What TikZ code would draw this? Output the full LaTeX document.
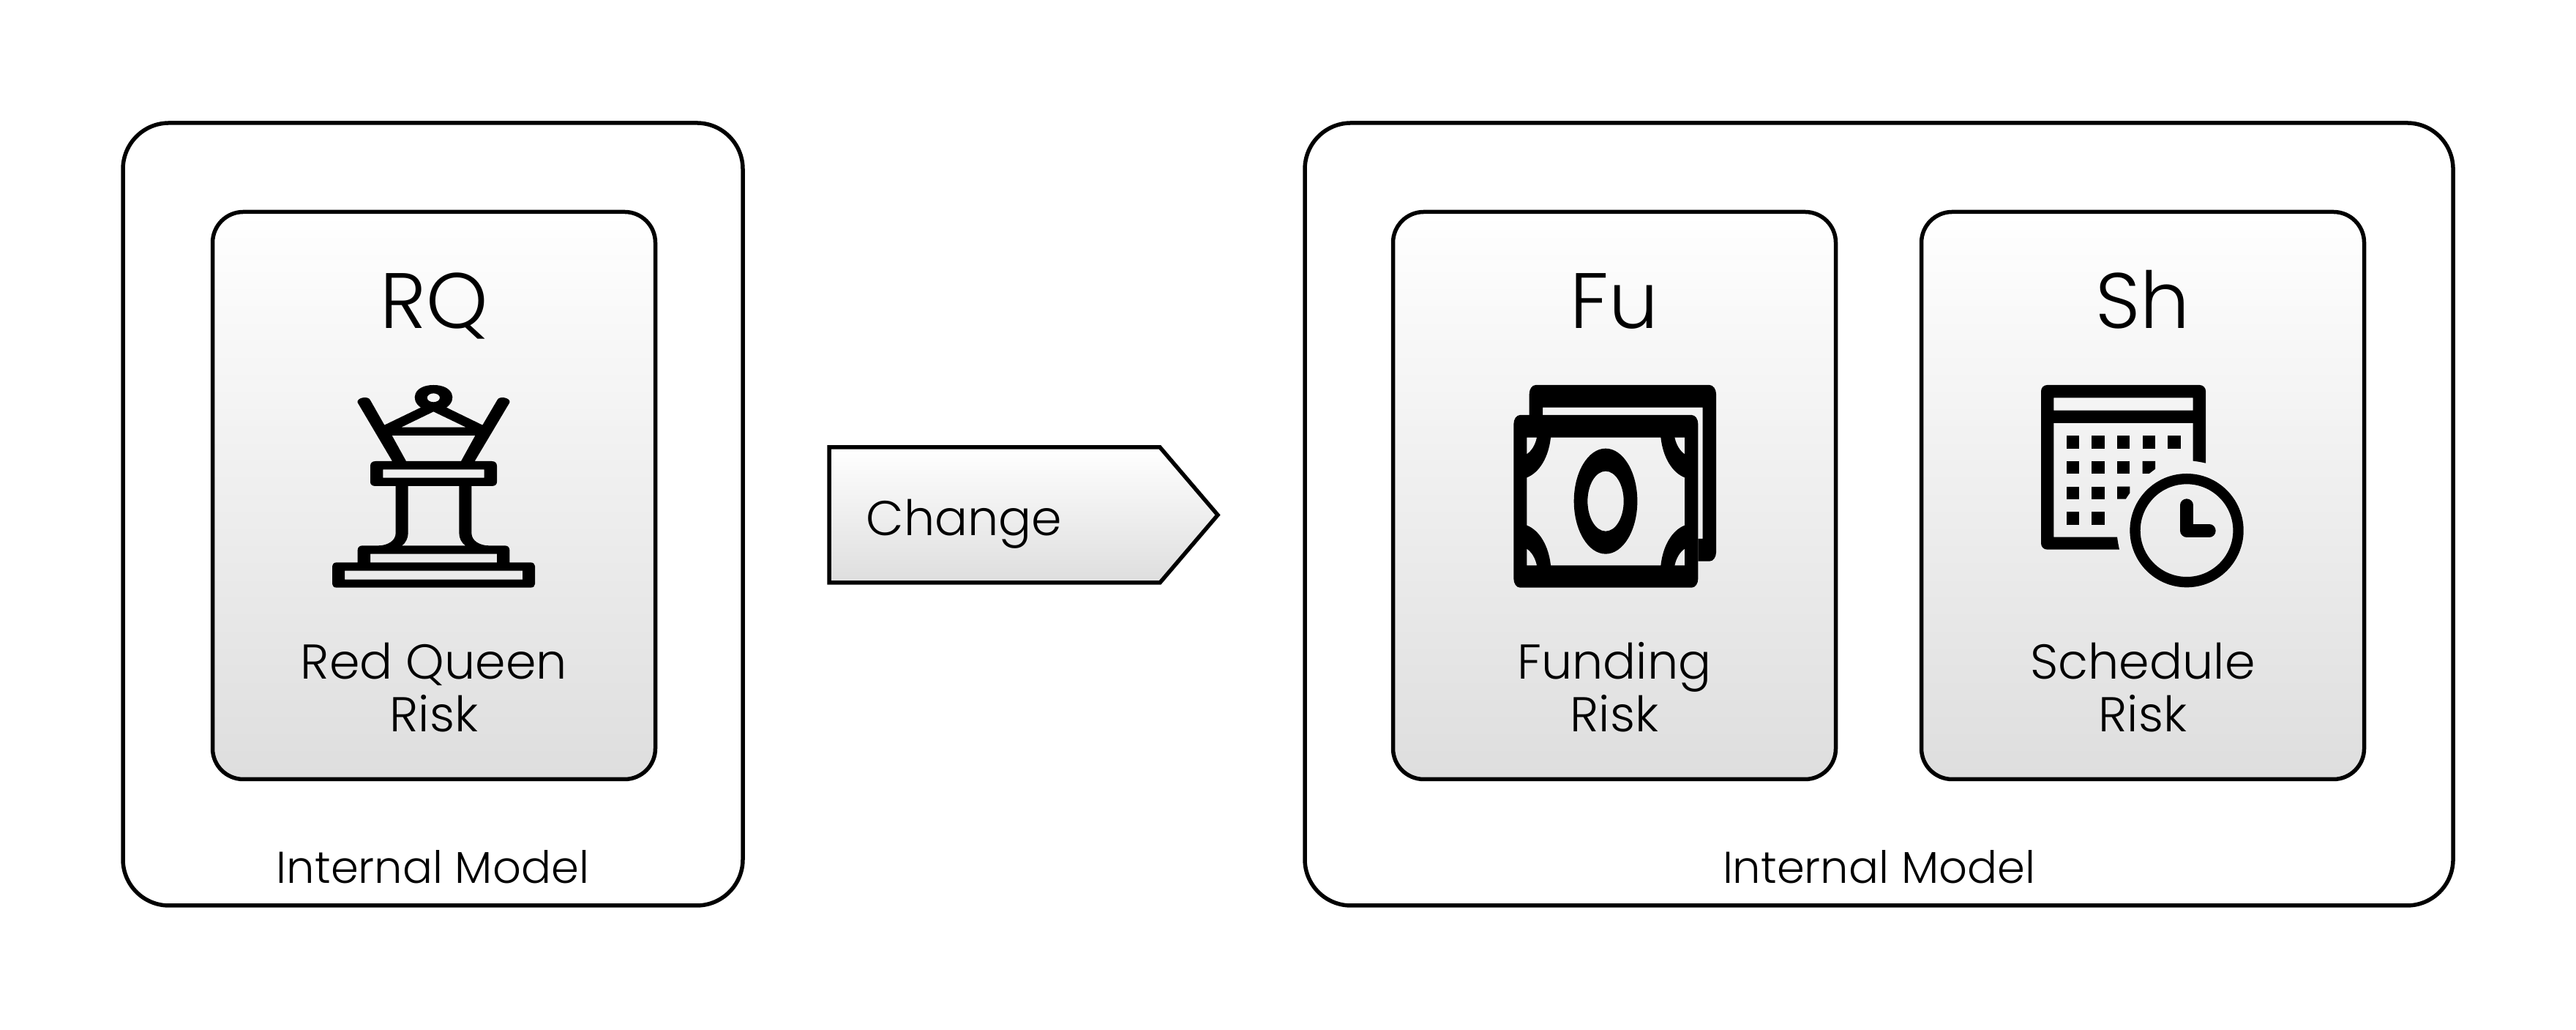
\documentclass[tikz,border=0pt]{standalone}
\usepackage{fontspec}
\setmainfont{Poppins Light}
\usetikzlibrary{positioning}
\usetikzlibrary{shapes.symbols}

\definecolor{shade bottom}{gray}{0.87}

\tikzset{
  icon/.style = {x=0.033333mm, y=-0.033333mm},
  icon fill/.style = {fill=black, even odd rule, draw=none},
  queen icon/.pic = {
    \path[icon fill]
      (206,210) .. controls (200,190) and (250,180) .. (258,200) -- (316,302) -- (465,230)
      .. controls (420,200) and (435,138) .. (517,138)
      .. controls (600,138) and (615,200) .. (570,230) -- (718,302) -- (778,200)
      .. controls (785,180) and (835,190) .. (829,210) -- (686,450) -- (755,450)
      .. controls (770,450) and (777,458) .. (777,470) -- (777,535)
      .. controls (777,545) and (770,552) .. (755,552) -- (673,552) -- (673,745)
      .. controls (673,775) and (705,796) .. (745,796) -- (810,796)
      .. controls (822,796) and (829,804) .. (829,815) -- (829,865) -- (915,865)
      .. controls (926,865) and (933,872) .. (933,880) -- (933,953)
      .. controls (933,962) and (926,968) .. (915,968) -- (120,968)
      .. controls (109,968) and (102,962) .. (102,953) -- (102,880)
      .. controls (102,872) and (109,865) .. (120,865) -- (206,865) -- (206,815)
      .. controls (206,804) and (213,796) .. (225,796) -- (290,796)
      .. controls (330,796) and (362,775) .. (362,745) -- (362,552) -- (280,552)
      .. controls (265,552) and (258,545) .. (258,535) -- (258,470)
      .. controls (258,458) and (265,450) .. (280,450) -- (348,450) -- cycle
      (517,190) ellipse [x radius=26, y radius=18]
      (385,311) -- (517,247) -- (650,311) -- cycle
      (347,345) -- (688,345) -- (630,450) -- (405,450) -- cycle
      (310,484) rectangle (725,518)
      (413,552) -- (622,552) -- (622,745) .. controls (622,765) and (632,785) .. (648,796)
      -- (388,796) .. controls (403,785) and (413,765) .. (413,745) -- cycle
      (258,830) rectangle (777,865)
      (153,899) rectangle (882,935);
  },
  money icon/.pic = {
    % back note
    \path[icon fill]
      (209,261) -- (209,175) .. controls (209,155) and (220,138) .. (235,138) -- (948,138)
      .. controls (963,138) and (975,155) .. (975,175) -- (975,823)
      .. controls (975,843) and (963,860) .. (948,860) -- (901,860) -- (901,768) -- (920,768)
      -- (920,230) -- (264,230) -- (264,261) -- cycle;
    % front note
    \path[icon fill]
      (145,298) .. controls (145,278) and (156,261) .. (171,261) -- (875,261)
      .. controls (890,261) and (901,278) .. (901,298) -- (901,931)
      .. controls (901,951) and (890,968) .. (875,968) -- (171,968)
      .. controls (156,968) and (145,951) .. (145,931) -- cycle
      (297,353) -- (748,353) .. controls (757,435) and (795,497) .. (846,517) -- (846,713)
      .. controls (795,733) and (757,795) .. (748,877) -- (297,877)
      .. controls (288,795) and (250,733) .. (199,713) -- (199,517)
      .. controls (250,497) and (288,435) .. (297,353) -- cycle
      (199,353) -- (240,353) .. controls (233,385) and (218,408) .. (199,421) -- cycle
      (846,353) -- (805,353) .. controls (812,385) and (827,408) .. (846,421) -- cycle
      (199,877) -- (240,877) .. controls (233,845) and (218,822) .. (199,809) -- cycle
      (846,877) -- (805,877) .. controls (812,845) and (827,822) .. (846,809) -- cycle
      (522,614) ellipse [x radius=130, y radius=216]
      (522,614) ellipse [x radius=74, y radius=123];
  },
  calendar icon/.pic = {
    \path[icon fill]
      (147,133) .. controls (147,119) and (158,108) .. (172,108) -- (797,108)
      .. controls (811,108) and (822,119) .. (822,133) -- (822,428)
      .. controls (805,424) and (788,421) .. (770,419) -- (770,264) -- (199,264) -- (199,731)
      -- (459,731) .. controls (461,748) and (464,765) .. (468,782) -- (172,782)
      .. controls (158,782) and (147,771) .. (147,757) -- cycle
      (199,160) rectangle (770,212);
    \foreach \col/\row in {251/316,355/316,459/316,563/316,667/316,
                           251/420,355/420,459/420,
                           251/524,355/524,
                           251/628,355/628}
      \fill (\col,\row) rectangle +(52,52);
    \fill (563,420) -- (615,420) -- (615,452) -- (590,471) -- (563,471) -- cycle;
    \fill (459,524) -- (511,524) -- (511,550) -- (494,575) -- (459,575) -- cycle;
    % clock
    \path[icon fill] (744,704) circle [radius=233] (744,704) circle [radius=190];
    \draw[line width=0.173cm, line cap=round, line join=round]
      (744,600) -- (744,705) -- (837,705);
  },
}

\begin{document}
\begin{tikzpicture}[
  model box/.style = {
    draw, line width=0.055cm, rounded corners=0.63cm, inner sep=0pt, outer sep=0pt
  },
  risk box/.style = {
    draw, line width=0.055cm, rounded corners=0.42cm, inner sep=0pt, outer sep=0pt,
    minimum width=6.05cm, minimum height=7.75cm,
    top color=white, bottom color=shade bottom
  },
  risk title/.style = {font=\fontsize{30.5}{36}\selectfont, inner sep=0pt,
    text height=0.8cm, text depth=0.1cm},
  risk name/.style  = {font=\fontsize{19}{20.5}\selectfont, align=center, inner sep=0pt},
  model name/.style = {font=\fontsize{17.3}{21}\selectfont, inner sep=0pt},
]

\path[use as bounding box] (0,0) rectangle (35.2,14.07);

% internal models
\node[model box, minimum width=8.47cm, minimum height=10.69cm]
  (model-l) at (5.915,7.045) {};
\node[model box, minimum width=15.69cm, minimum height=10.69cm]
  (model-r) at (25.675,7.045) {};

% risk boxes
\node[risk box] (rq-box) at (5.93,7.30) {};
\node[risk box] (fu-box) at (22.06,7.30) {};
\node[risk box] (sh-box) [right=1.17cm of fu-box] {};

% change arrow
\node[draw, line width=0.055cm, shape=signal, signal to=east, signal pointer angle=99,
  minimum width=5.31cm, minimum height=1.85cm, inner sep=0pt, outer sep=0pt,
  top color=white, bottom color=shade bottom]
  (change) at (13.59,7.035) {};
\node[font=\fontsize{19}{21}\selectfont, inner sep=0pt, anchor=west]
  (change-text) at (11.83,6.91) {Change};

% titles
\node[risk title] (rq) [below=0.78cm of rq-box.north] {RQ};
\node[risk title] (fu) [below=0.78cm of fu-box.north] {Fu};
\node[risk title] (sh) [below=0.78cm of sh-box.north] {Sh};

% names
\node[risk name] (rq-name) [above=0.64cm of rq-box.south] {Red Queen\\Risk};
\node[risk name] (fu-name) [above=0.64cm of fu-box.south] {Funding\\Risk};
\node[risk name] (sh-name) [above=0.64cm of sh-box.south] {Schedule\\Risk};

\node[model name] (model-l-name) [above=0.29cm of model-l.south] {Internal Model};
\node[model name] (model-r-name) [above=0.29cm of model-r.south] {Internal Model};

% icons
\coordinate (queen-at) at (4.20,9.27);
\coordinate (money-at) at (20.20,9.27);
\coordinate (calendar-at) at (27.40,9.17);
\pic[icon] (queen) at (queen-at) {queen icon};
\pic[icon] (money) at (money-at) {money icon};
\pic[icon] (calendar) at (calendar-at) {calendar icon};

\end{tikzpicture}
\end{document}
